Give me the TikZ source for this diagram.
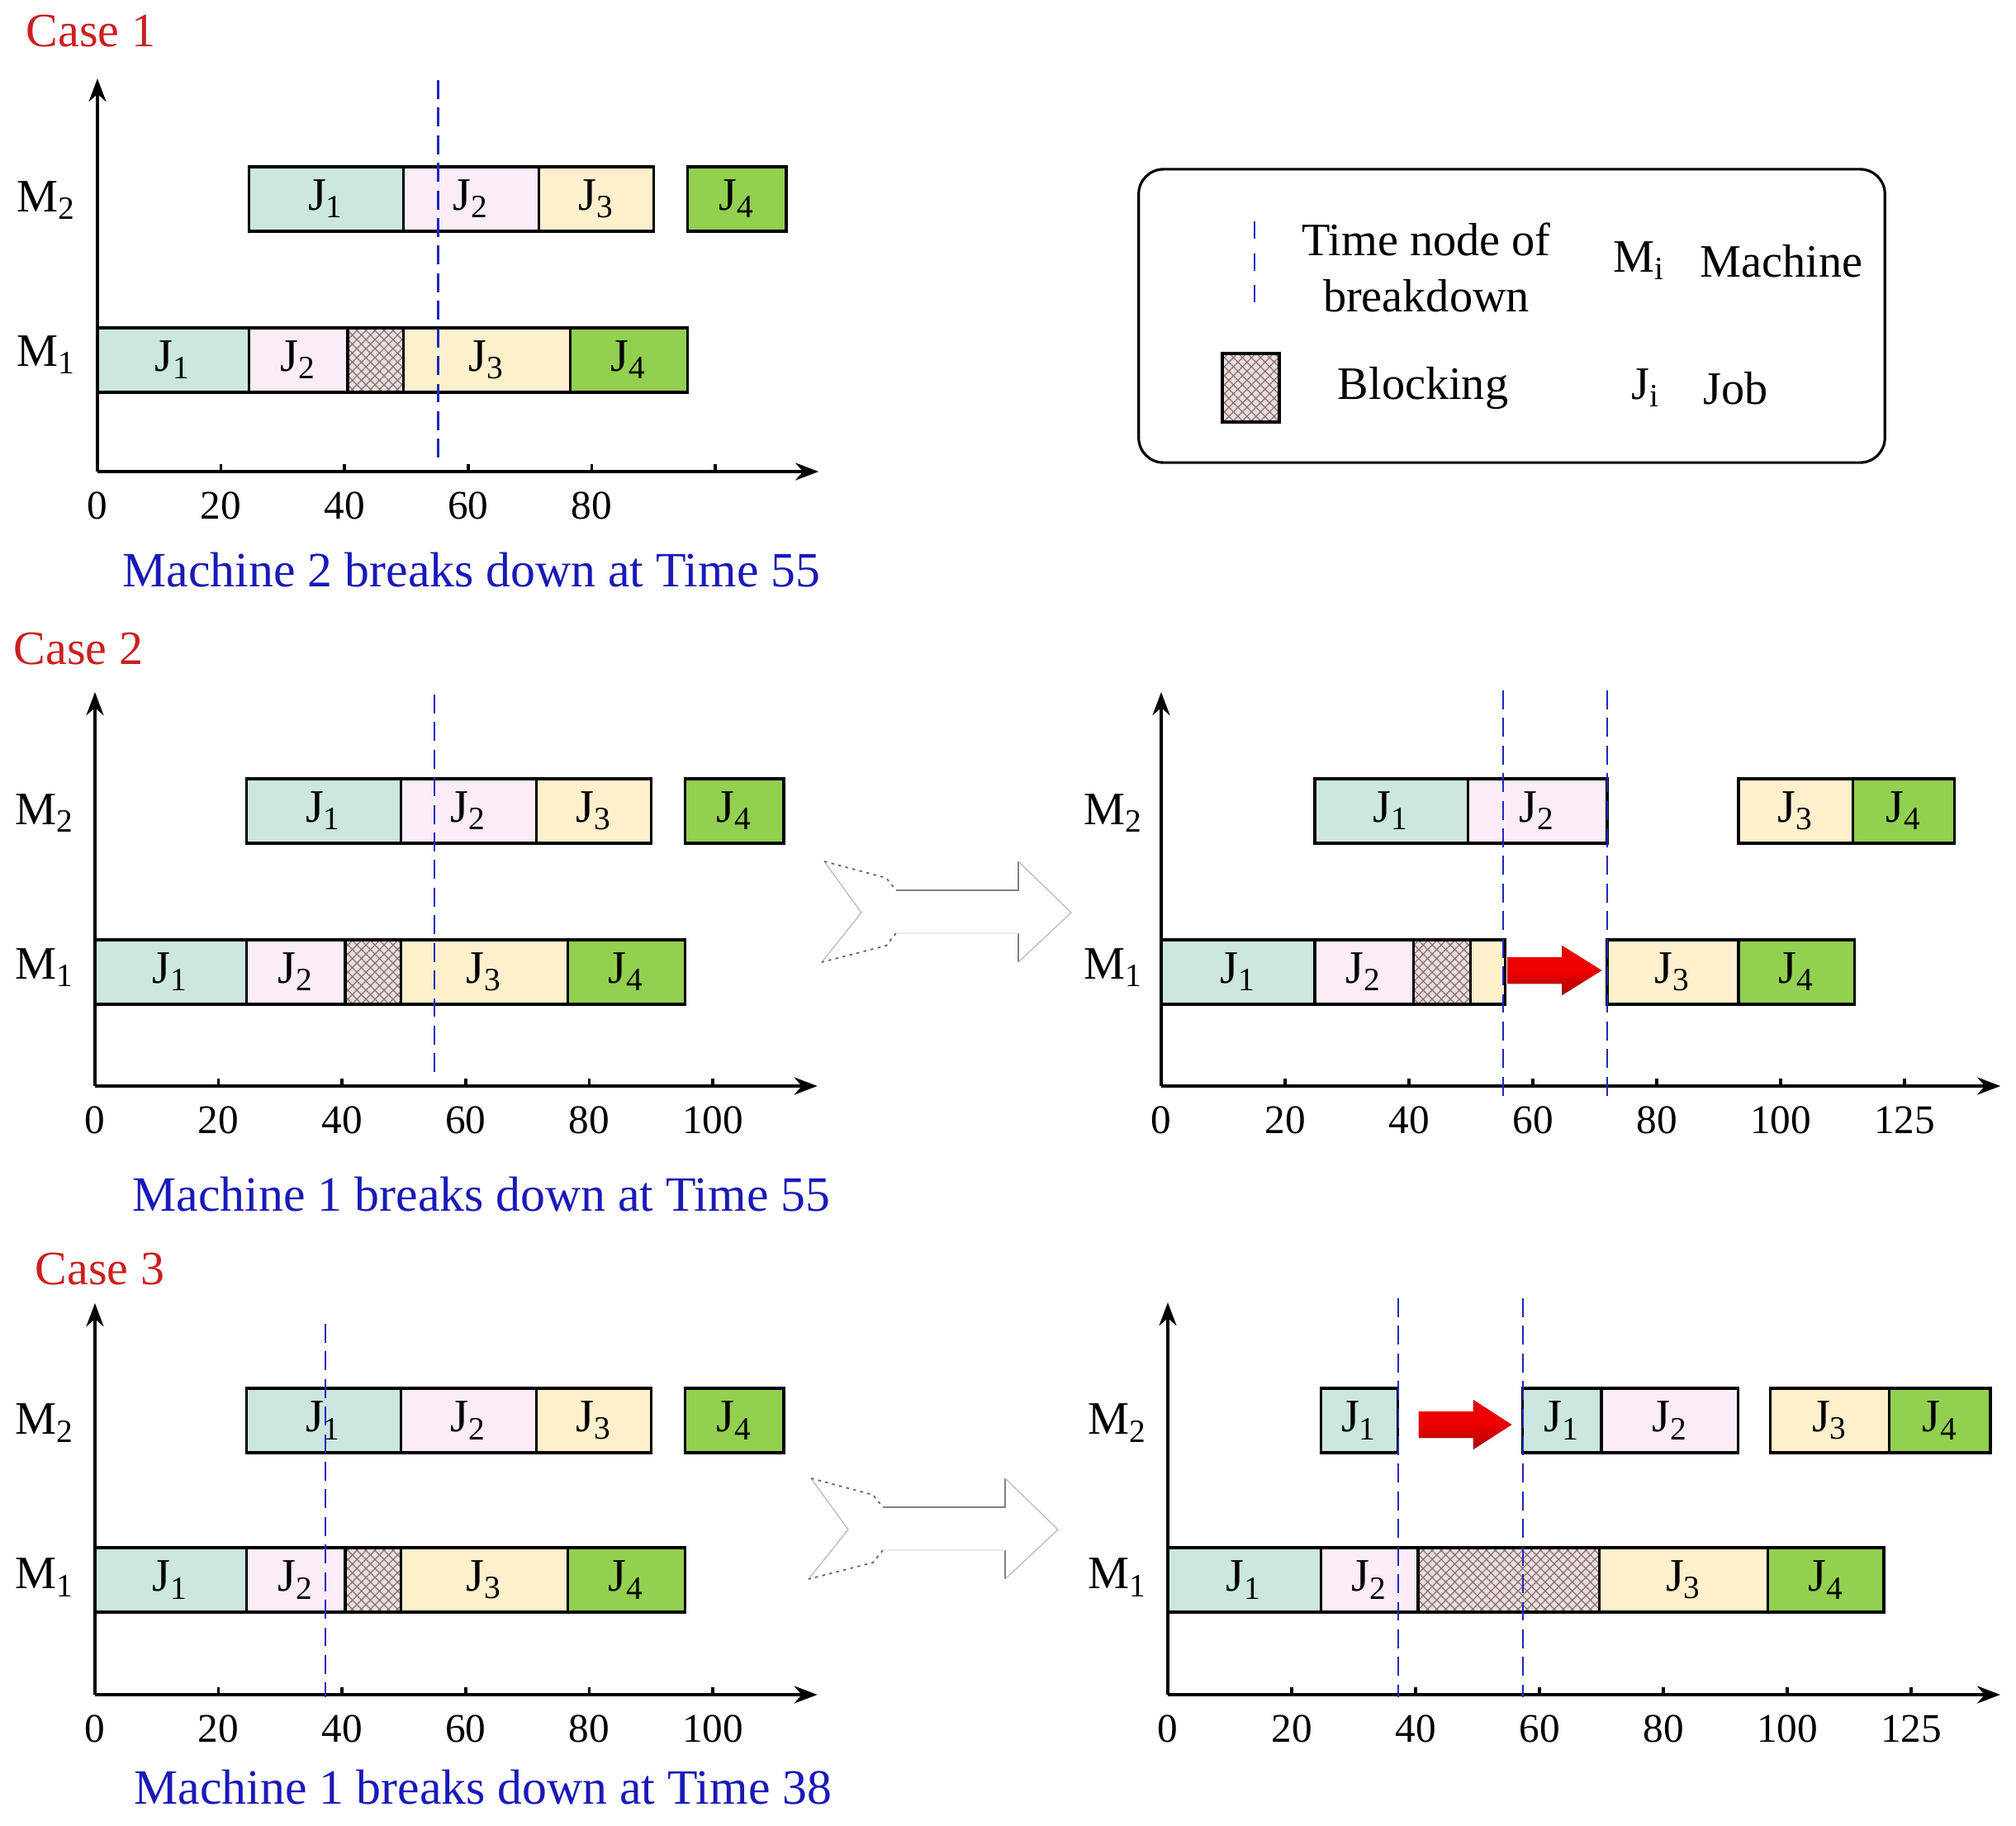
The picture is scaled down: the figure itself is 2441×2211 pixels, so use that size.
\documentclass[tikz,border=0pt]{standalone}
\usepackage{fontspec}
\setmainfont{Liberation Serif}
\usetikzlibrary{patterns.meta,arrows.meta}
\definecolor{cJone}{RGB}{204,230,224}
\definecolor{cJtwo}{RGB}{252,236,248}
\definecolor{cJthree}{RGB}{254,240,204}
\definecolor{cJfour}{RGB}{146,208,80}
\definecolor{cBlk}{RGB}{232,222,222}
\definecolor{cHatch}{RGB}{140,110,110}
\definecolor{cBreak}{RGB}{30,40,190}
\definecolor{cCase}{RGB}{205,30,30}
\definecolor{cCap}{RGB}{25,25,185}
\definecolor{cRed}{RGB}{238,0,0}
\newcommand\jl[1]{J\textsubscript{#1}}
\newcommand\ml[1]{M\textsubscript{#1}}
\tikzset{
  jobbox/.style={draw=black, line width=0.9pt},
  blockbox/.style={fill=cBlk, postaction={pattern={Hatch[angle=45,distance=2.2pt,line width=0.35pt]}, pattern color=cHatch}},
  joblab/.style={font=\fontsize{16}{19}\selectfont, inner sep=0pt},
  mlab/.style={font=\fontsize{16}{19}\selectfont, inner sep=0pt},
  ticklab/.style={font=\fontsize{14}{17}\selectfont, inner sep=0pt},
  axisline/.style={line width=1pt, -{Stealth[length=8pt,width=6pt]}},
  tickline/.style={line width=1pt},
  breakline/.style={cBreak, line width=0.7pt, dash pattern=on 6.5pt off 3pt},
  caselab/.style={text=cCase, font=\fontsize{16.5}{19}\selectfont, anchor=west, inner sep=0pt},
  capt/.style={text=cCap, font=\fontsize{17}{20}\selectfont, inner sep=0pt},
  legtext/.style={font=\fontsize{16}{19.3}\selectfont, inner sep=0pt},
  redarrow/.style={top color=cRed, bottom color=cRed!72!black, middle color=cRed, draw=none},
  hdot/.style={gray!80!black, line width=0.5pt, dash pattern=on 1pt off 1.5pt},
  hsolid/.style={gray, line width=0.8pt},
  hlight/.style={gray!50, line width=0.4pt},
  hfaint/.style={gray!15, line width=0.4pt},
}
% name, t0, t1, ytop, colour, label
\newcommand\gjob[6]{%
  \draw[jobbox, fill=#5] (#2,#4) rectangle (#3,#4+78);
  \node[joblab] (#1) at ({(#2+#3)/2},#4+39) {#6};}
% name, t0, t1, ytop
\newcommand\gblk[4]{%
  \path[blockbox] (#2,#4) rectangle (#3,#4+78);
  \draw[jobbox] (#2,#4) rectangle (#3,#4+78);
  \coordinate (#1) at ({(#2+#3)/2},#4+39);}
% hollow arrow, shifted by (#1,#2)
\newcommand\hollowarrow[2]{%
  \begin{scope}[shift={(#1,#2)}]
    \draw[hlight] (998,1043) -- (1043,1105) -- (995,1165);
    \draw[hdot] (998,1043) -- (1073,1063) -- (1085,1078);
    \draw[hdot] (1085,1130) -- (1073,1145) -- (995,1165);
    \draw[hsolid] (1085,1078) -- (1233,1078) -- (1233,1043);
    \draw[hsolid] (1233,1130) -- (1233,1165);
    \draw[hfaint] (1085,1130) -- (1233,1130);
    \draw[hlight] (1233,1043) -- (1297,1105) -- (1233,1165);
  \end{scope}}
\begin{document}
\begin{tikzpicture}[x=0.01cm, y=-0.01cm]
\useasboundingbox (0,0) rectangle (2441,2211);
\fill[white] (0,0) rectangle (2441,2211);

% ================= Case 1 =================
\node[caselab] (case1) at (31,38) {Case 1};
\begin{scope}[shift={(118,0)}, xscale=7.48]
  \gjob{aMtwoJone}{24.5}{49.5}{202}{cJone}{\jl1}
  \gjob{aMtwoJtwo}{49.5}{71.5}{202}{cJtwo}{\jl2}
  \gjob{aMtwoJthree}{71.5}{90}{202}{cJthree}{\jl3}
  \gjob{aMtwoJfour}{95.5}{111.5}{202}{cJfour}{\jl4}
  \gjob{aMoneJone}{0}{24.5}{397}{cJone}{\jl1}
  \gjob{aMoneJtwo}{24.5}{40.5}{397}{cJtwo}{\jl2}
  \gblk{aMoneB}{40.5}{49.5}{397}
  \gjob{aMoneJthree}{49.5}{76.5}{397}{cJthree}{\jl3}
  \gjob{aMoneJfour}{76.5}{95.5}{397}{cJfour}{\jl4}
  \coordinate (aO) at (0,571);
  \coordinate (aY) at (0,95);
  \coordinate (aX) at (116.8,571);
  \draw[axisline] (aO) -- (aY);
  \draw[axisline] (aO) -- (aX);
  \foreach \t in {20,40,60,80,100} \draw[tickline] (\t,571) -- (\t,562);
  \foreach \t in {0,20,40,60,80} \node[ticklab] (aT\t) at (\t,612) {\t};
  \coordinate (aBa) at (55.2,97);
  \coordinate (aBb) at (55.2,556);
  \draw[breakline] (aBa) -- (aBb);
\end{scope}
\node[mlab] (aMtwo) at (56,243) {\ml2};
\node[mlab] (aMone) at (56,430) {\ml1};
\node[capt] (cap1) at (571,690) {Machine 2 breaks down at Time 55};

% ================= Legend =================
\node[draw, line width=0.9pt, rounded corners=0.3cm, minimum width=9.03cm, minimum height=3.55cm] (legend) at (1830.5,382.5) {};
\coordinate (lga) at (1519,268);
\coordinate (lgb) at (1519,370);
\draw[cBreak, line width=0.7pt, dash pattern=on 6pt off 5pt] (lga) -- (lgb);
\node[legtext, align=center] (lgTime) at (1727,324) {Time node of\\breakdown};
\node[legtext] (lgMi) at (1985,316) {M\textsubscript{i}};
\node[legtext] (lgMach) at (2157,316) {Machine};
\path[blockbox] (1480,428) rectangle (1549,511);
\draw[line width=0.9pt] (1480,428) rectangle (1549,511);
\node[legtext] (lgBlk) at (1723,470) {Blocking};
\node[legtext] (lgJi) at (1993,470) {J\textsubscript{i}};
\node[legtext] (lgJob) at (2102,470) {Job};

% ================= Case 2 =================
\node[caselab] (case2) at (16,786) {Case 2};
\begin{scope}[shift={(115,0)}, xscale=7.48]
  \gjob{bMtwoJone}{24.5}{49.5}{943}{cJone}{\jl1}
  \gjob{bMtwoJtwo}{49.5}{71.5}{943}{cJtwo}{\jl2}
  \gjob{bMtwoJthree}{71.5}{90}{943}{cJthree}{\jl3}
  \gjob{bMtwoJfour}{95.5}{111.5}{943}{cJfour}{\jl4}
  \gjob{bMoneJone}{0}{24.5}{1138}{cJone}{\jl1}
  \gjob{bMoneJtwo}{24.5}{40.5}{1138}{cJtwo}{\jl2}
  \gblk{bMoneB}{40.5}{49.5}{1138}
  \gjob{bMoneJthree}{49.5}{76.5}{1138}{cJthree}{\jl3}
  \gjob{bMoneJfour}{76.5}{95.5}{1138}{cJfour}{\jl4}
  \coordinate (bO) at (0,1315);
  \coordinate (bY) at (0,838);
  \coordinate (bX) at (117,1315);
  \draw[axisline] (bO) -- (bY);
  \draw[axisline] (bO) -- (bX);
  \foreach \t in {20,40,60,80,100} \draw[tickline] (\t,1315) -- (\t,1306);
  \foreach \t in {0,20,40,60,80,100} \node[ticklab] (bT\t) at (\t,1356) {\t};
  \coordinate (bBa) at (55,841);
  \coordinate (bBb) at (55,1300);
  \draw[breakline] (bBa) -- (bBb);
\end{scope}
\node[mlab] (bMtwo) at (54,985) {\ml2};
\node[mlab] (bMone) at (54,1172) {\ml1};
\node[capt] (cap2) at (583,1446) {Machine 1 breaks down at Time 55};
\hollowarrow{0}{0}

\begin{scope}[shift={(1406,0)}, xscale=7.5]
  \gjob{cMtwoJone}{24.8}{49.5}{943}{cJone}{\jl1}
  \gjob{cMtwoJtwo}{49.5}{72}{943}{cJtwo}{\jl2}
  \gjob{cMtwoJthree}{93.2}{111.7}{943}{cJthree}{\jl3}
  \gjob{cMtwoJfour}{111.7}{128.1}{943}{cJfour}{\jl4}
  \gjob{cMoneJone}{0}{24.8}{1138}{cJone}{\jl1}
  \gjob{cMoneJtwo}{24.8}{40.7}{1138}{cJtwo}{\jl2}
  \gblk{cMoneB}{40.7}{49.9}{1138}
  \draw[jobbox, fill=cJthree] (49.9,1138) rectangle (55.5,1216);
  \gjob{cMoneJthree}{72}{93.2}{1138}{cJthree}{\jl3}
  \gjob{cMoneJfour}{93.2}{111.9}{1138}{cJfour}{\jl4}
  \fill[redarrow] (55.9,1159) -- (64.7,1159) -- (64.7,1145) -- (71.1,1175) -- (64.7,1205) -- (64.7,1191) -- (55.9,1191) -- cycle;
  \coordinate (cO) at (0,1315);
  \coordinate (cY) at (0,838);
  \coordinate (cX) at (135.5,1315);
  \draw[axisline] (cO) -- (cY);
  \draw[axisline] (cO) -- (cX);
  \foreach \t in {20,40,...,120} \draw[tickline] (\t,1315) -- (\t,1306);
  \foreach \t/\l in {0/0,20/20,40/40,60/60,80/80,100/100,120/125} \node[ticklab] (cT\t) at (\t,1356) {\l};
  \coordinate (cBa) at (55.2,836);
  \coordinate (cBb) at (55.2,1330);
  \coordinate (cCa) at (72,836);
  \coordinate (cCb) at (72,1330);
  \draw[breakline] (cBa) -- (cBb);
  \draw[breakline] (cCa) -- (cCb);
\end{scope}
\node[mlab] (cMtwo) at (1348,985) {\ml2};
\node[mlab] (cMone) at (1348,1172) {\ml1};

% ================= Case 3 =================
\node[caselab] (case3) at (42,1537) {Case 3};
\begin{scope}[shift={(115,0)}, xscale=7.48]
  \gjob{dMtwoJone}{24.5}{49.5}{1681}{cJone}{\jl1}
  \gjob{dMtwoJtwo}{49.5}{71.5}{1681}{cJtwo}{\jl2}
  \gjob{dMtwoJthree}{71.5}{90}{1681}{cJthree}{\jl3}
  \gjob{dMtwoJfour}{95.5}{111.5}{1681}{cJfour}{\jl4}
  \gjob{dMoneJone}{0}{24.5}{1874}{cJone}{\jl1}
  \gjob{dMoneJtwo}{24.5}{40.5}{1874}{cJtwo}{\jl2}
  \gblk{dMoneB}{40.5}{49.5}{1874}
  \gjob{dMoneJthree}{49.5}{76.5}{1874}{cJthree}{\jl3}
  \gjob{dMoneJfour}{76.5}{95.5}{1874}{cJfour}{\jl4}
  \coordinate (dO) at (0,2052);
  \coordinate (dY) at (0,1578);
  \coordinate (dX) at (117,2052);
  \draw[axisline] (dO) -- (dY);
  \draw[axisline] (dO) -- (dX);
  \foreach \t in {20,40,60,80,100} \draw[tickline] (\t,2052) -- (\t,2043);
  \foreach \t in {0,20,40,60,80,100} \node[ticklab] (dT\t) at (\t,2093) {\t};
  \coordinate (dBa) at (37.3,1603);
  \coordinate (dBb) at (37.3,2055);
  \draw[breakline] (dBa) -- (dBb);
\end{scope}
\node[mlab] (dMtwo) at (54,1723) {\ml2};
\node[mlab] (dMone) at (54,1910) {\ml1};
\node[capt] (cap3) at (585,2164) {Machine 1 breaks down at Time 38};
\hollowarrow{-16}{747}

\begin{scope}[shift={(1414,0)}, xscale=7.5]
  \gjob{eMtwoJonea}{24.7}{37.1}{1681}{cJone}{\jl1}
  \gjob{eMtwoJoneb}{57.3}{70}{1681}{cJone}{\jl1}
  \gjob{eMtwoJtwo}{70}{92.1}{1681}{cJtwo}{\jl2}
  \gjob{eMtwoJthree}{97.3}{116.5}{1681}{cJthree}{\jl3}
  \gjob{eMtwoJfour}{116.5}{132.8}{1681}{cJfour}{\jl4}
  \gjob{eMoneJone}{0}{24.7}{1874}{cJone}{\jl1}
  \gjob{eMoneJtwo}{24.7}{40.4}{1874}{cJtwo}{\jl2}
  \gblk{eMoneB}{40.4}{69.7}{1874}
  \gjob{eMoneJthree}{69.7}{96.9}{1874}{cJthree}{\jl3}
  \gjob{eMoneJfour}{96.9}{115.6}{1874}{cJfour}{\jl4}
  \fill[redarrow] (40.5,1709) -- (49.3,1709) -- (49.3,1695) -- (55.5,1725) -- (49.3,1755) -- (49.3,1741) -- (40.5,1741) -- cycle;
  \coordinate (eO) at (0,2052);
  \coordinate (eY) at (0,1577);
  \coordinate (eX) at (134.4,2052);
  \draw[axisline] (eO) -- (eY);
  \draw[axisline] (eO) -- (eX);
  \foreach \t in {20,40,...,120} \draw[tickline] (\t,2052) -- (\t,2043);
  \foreach \t/\l in {0/0,20/20,40/40,60/60,80/80,100/100,120/125} \node[ticklab] (eT\t) at (\t,2093) {\l};
  \coordinate (eBa) at (37.2,1572);
  \coordinate (eBb) at (37.2,2055);
  \coordinate (eCa) at (57.3,1572);
  \coordinate (eCb) at (57.3,2055);
  \draw[breakline] (eBa) -- (eBb);
  \draw[breakline] (eCa) -- (eCb);
\end{scope}
\node[mlab] (eMtwo) at (1353,1723) {\ml2};
\node[mlab] (eMone) at (1353,1910) {\ml1};
\end{tikzpicture}
\end{document}
